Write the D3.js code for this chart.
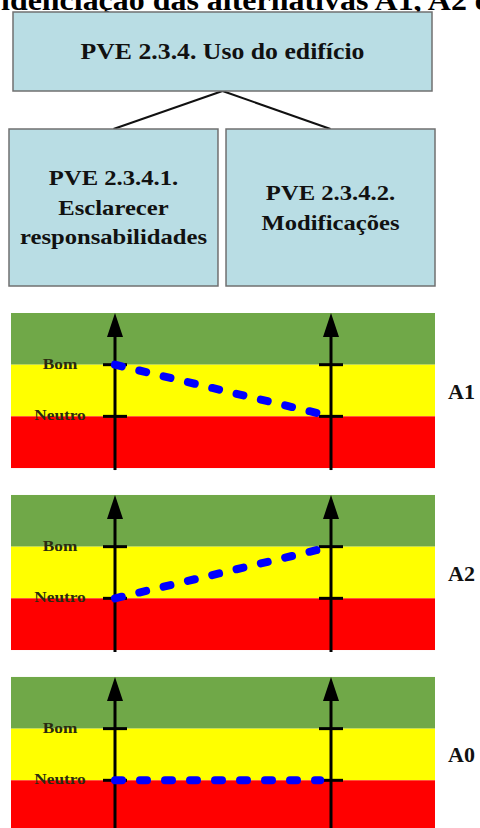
<!DOCTYPE html>
<html>
<head>
<meta charset="utf-8">
<script src="https://cdn.jsdelivr.net/npm/d3@7"></script>
<style>
  html, body { margin: 0; padding: 0; background: #fff; overflow: hidden; }
  svg { display: block; }
</style>
</head>
<body>
<div id="chart"></div>
<script>
(function () {
    // --- data ---
    const titleText = "Evidenciação das alternativas A1, A2 e A0";
    const rootLabel = "PVE 2.3.4. Uso do edifício";
    const criteria = ["PVE 2.3.4.1.", "PVE 2.3.4.2."];
    const criteriaLines = [
        ["PVE 2.3.4.1.", "Esclarecer", "responsabilidades"],
        ["PVE 2.3.4.2.", "Modificações"]
    ];
    const levelNames = ["Bom", "Neutro"];
    const levelScores = [100, 0];
    const alternatives = ["A1", "A2", "A0"];
    const scoresFirst = [100, 0, 0];   // PVE 2.3.4.1.
    const scoresSecond = [0, 100, 0];  // PVE 2.3.4.2.

    // --- layout ---
    const W = 480, H = 828;
    const serif = "'Liberation Serif', 'Times New Roman', serif";
    const boxFill = "#b9dde4", boxStroke = "#707070";
    const stretch = 1.12;

    const svg = d3.select("#chart").append("svg")
        .attr("width", W)
        .attr("height", H);

    // title, cut at the top and left like the reference
    const title = svg.append("text")
        .attr("font-family", serif)
        .attr("font-weight", "bold")
        .attr("font-size", 30)
        .text(titleText);
    const prefix = title.node().getSubStringLength(0, 2);
    title.attr("transform", `translate(1,10) scale(1.065,1)`)
        .attr("x", -prefix);

    // helper for the slightly wide box text
    function boxText(g, lines, cx, cy, size, lh) {
        const n = lines.length;
        lines.forEach((t, i) => {
            const y = cy + (i - (n - 1) / 2) * lh + size * 0.33;
            g.append("text")
                .attr("transform", `translate(${cx},${y}) scale(${stretch},1)`)
                .attr("text-anchor", "middle")
                .attr("font-family", serif)
                .attr("font-weight", "bold")
                .attr("font-size", size)
                .attr("fill", "#111")
                .text(t);
        });
    }

    // --- tree ---
    const root = { x0: 13, x1: 432, y0: 12, y1: 91 };
    const childY0 = 129, childY1 = 286;
    const xBox = d3.scaleBand().domain(criteria).range([9, 435]).paddingInner(0.037);

    const tree = svg.append("g");
    criteria.forEach(c => {
        tree.append("line")
            .attr("x1", (root.x0 + root.x1) / 2).attr("y1", root.y1)
            .attr("x2", xBox(c) + xBox.bandwidth() / 2).attr("y2", childY0)
            .attr("stroke", "#111").attr("stroke-width", 2);
    });
    tree.append("rect")
        .attr("x", root.x0).attr("y", root.y0)
        .attr("width", root.x1 - root.x0).attr("height", root.y1 - root.y0)
        .attr("fill", boxFill).attr("stroke", boxStroke).attr("stroke-width", 1.5);
    boxText(tree, [rootLabel], (root.x0 + root.x1) / 2, 51, 23, 30);

    criteria.forEach((c, i) => {
        tree.append("rect")
            .attr("x", xBox(c)).attr("y", childY0)
            .attr("width", xBox.bandwidth()).attr("height", childY1 - childY0)
            .attr("fill", boxFill).attr("stroke", boxStroke).attr("stroke-width", 1.5);
        boxText(tree, criteriaLines[i], xBox(c) + xBox.bandwidth() / 2,
            (childY0 + childY1) / 2, 22, 29.5);
    });

    // --- value panels ---
    const panelX0 = 11, panelX1 = 435;
    const yPanel = d3.scaleBand().domain(alternatives).range([313, 832]).paddingInner(0.148);
    const xAxis = d3.scalePoint().domain(criteria).range([115, 331]);
    const zones = [
        { lo: levelScores[0], hi: 200, color: "#70a848" },
        { lo: levelScores[1], hi: levelScores[0], color: "#ffff00" },
        { lo: -100, hi: levelScores[1], color: "#ff0000" }
    ];

    alternatives.forEach((alt, ai) => {
        const top = yPanel(alt), bottom = top + yPanel.bandwidth();
        const y = d3.scaleLinear().domain([-100, 200]).range([bottom, top]);
        const g = svg.append("g");

        g.selectAll("rect.zone")
            .data(zones)
            .join("rect")
            .attr("class", "zone")
            .attr("x", panelX0)
            .attr("width", panelX1 - panelX0)
            .attr("y", d => y(d.hi))
            .attr("height", d => y(d.lo) - y(d.hi))
            .attr("fill", d => d.color);

        // vertical axes with arrowheads
        criteria.forEach(c => {
            const x = xAxis(c);
            g.append("line")
                .attr("x1", x).attr("x2", x)
                .attr("y1", bottom + 2).attr("y2", top + 14)
                .attr("stroke", "#000").attr("stroke-width", 3);
            g.append("path")
                .attr("d", `M${x},${top} L${x - 8},${top + 24} L${x + 8},${top + 24} Z`)
                .attr("fill", "#000");
            levelScores.forEach(s => {
                g.append("line")
                    .attr("x1", x - 12).attr("x2", x + 12)
                    .attr("y1", y(s)).attr("y2", y(s))
                    .attr("stroke", "#000").attr("stroke-width", 3);
            });
        });

        // level labels on left axis
        levelNames.forEach((name, li) => {
            g.append("text")
                .attr("transform", `translate(60,${y(levelScores[li]) + 4}) scale(1.15,1)`)
                .attr("text-anchor", "middle")
                .attr("font-family", serif)
                .attr("font-weight", "bold")
                .attr("font-size", 15)
                .attr("fill", "#2a2a10")
                .text(name);
        });

        // profile of the alternative
        const a = [xAxis(criteria[0]), y(scoresFirst[ai])];
        const b = [xAxis(criteria[1]), y(scoresSecond[ai])];
        const t = 0.95;
        g.append("line")
            .attr("x1", a[0]).attr("y1", a[1])
            .attr("x2", a[0] + (b[0] - a[0]) * t).attr("y2", a[1] + (b[1] - a[1]) * t)
            .attr("stroke", "#0000ff")
            .attr("stroke-width", 8)
            .attr("stroke-linecap", "round")
            .attr("stroke-dasharray", "7,18");

        g.append("text")
            .attr("x", 448)
            .attr("y", top + yPanel.bandwidth() / 2 + 8)
            .attr("font-family", serif)
            .attr("font-weight", "bold")
            .attr("font-size", 22)
            .attr("fill", "#111")
            .text(alt);
    });
})();
</script>
</body>
</html>
